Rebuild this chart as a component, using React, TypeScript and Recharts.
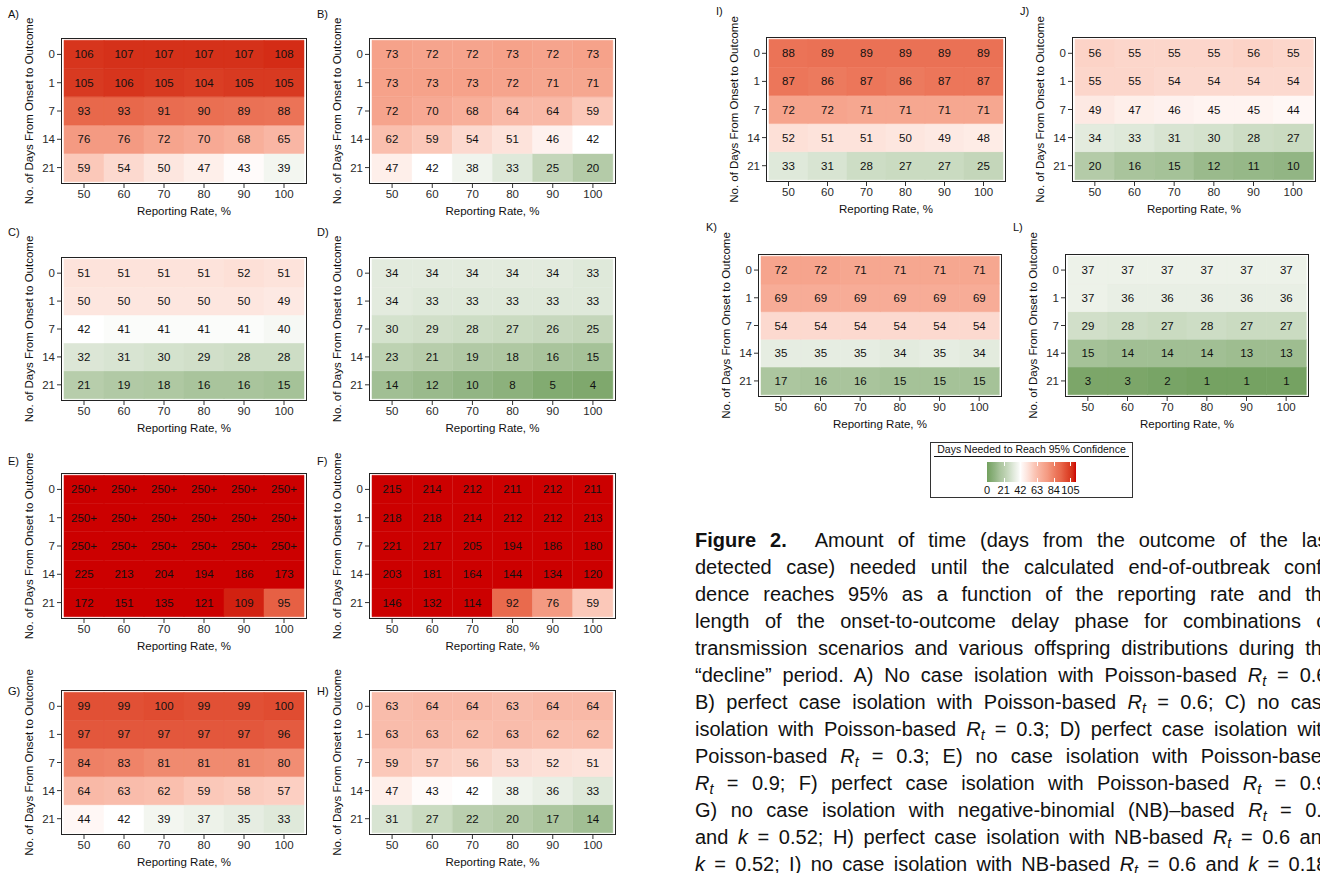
import React from 'react'
import { BarChart, Bar, XAxis, YAxis, Cell, LabelList } from 'recharts'

const rates = ['50', '60', '70', '80', '90', '100']
const delays = ['0', '1', '7', '14', '21']

// rows follow delays (0 on top), columns follow rates
const daysA = [[106, 107, 107, 107, 107, 108], [105, 106, 105, 104, 105, 105], [93, 93, 91, 90, 89, 88], [76, 76, 72, 70, 68, 65], [59, 54, 50, 47, 43, 39]]
const daysB = [[73, 72, 72, 73, 72, 73], [73, 73, 73, 72, 71, 71], [72, 70, 68, 64, 64, 59], [62, 59, 54, 51, 46, 42], [47, 42, 38, 33, 25, 20]]
const daysC = [[51, 51, 51, 51, 52, 51], [50, 50, 50, 50, 50, 49], [42, 41, 41, 41, 41, 40], [32, 31, 30, 29, 28, 28], [21, 19, 18, 16, 16, 15]]
const daysD = [[34, 34, 34, 34, 34, 33], [34, 33, 33, 33, 33, 33], [30, 29, 28, 27, 26, 25], [23, 21, 19, 18, 16, 15], [14, 12, 10, 8, 5, 4]]
const daysE = [[250, 250, 250, 250, 250, 250], [250, 250, 250, 250, 250, 250], [250, 250, 250, 250, 250, 250], [225, 213, 204, 194, 186, 173], [172, 151, 135, 121, 109, 95]]
const daysF = [[215, 214, 212, 211, 212, 211], [218, 218, 214, 212, 212, 213], [221, 217, 205, 194, 186, 180], [203, 181, 164, 144, 134, 120], [146, 132, 114, 92, 76, 59]]
const daysG = [[99, 99, 100, 99, 99, 100], [97, 97, 97, 97, 97, 96], [84, 83, 81, 81, 81, 80], [64, 63, 62, 59, 58, 57], [44, 42, 39, 37, 35, 33]]
const daysH = [[63, 64, 64, 63, 64, 64], [63, 63, 62, 63, 62, 62], [59, 57, 56, 53, 52, 51], [47, 43, 42, 38, 36, 33], [31, 27, 22, 20, 17, 14]]
const daysI = [[88, 89, 89, 89, 89, 89], [87, 86, 87, 86, 87, 87], [72, 72, 71, 71, 71, 71], [52, 51, 51, 50, 49, 48], [33, 31, 28, 27, 27, 25]]
const daysJ = [[56, 55, 55, 55, 56, 55], [55, 55, 54, 54, 54, 54], [49, 47, 46, 45, 45, 44], [34, 33, 31, 30, 28, 27], [20, 16, 15, 12, 11, 10]]
const daysK = [[72, 72, 71, 71, 71, 71], [69, 69, 69, 69, 69, 69], [54, 54, 54, 54, 54, 54], [35, 35, 35, 34, 35, 34], [17, 16, 16, 15, 15, 15]]
const daysL = [[37, 37, 37, 37, 37, 37], [37, 36, 36, 36, 36, 36], [29, 28, 27, 28, 27, 27], [15, 14, 14, 14, 13, 13], [3, 3, 2, 1, 1, 1]]

const CAP = 250
const legendTicks = [0, 21, 42, 63, 84, 105]
const LEGEND_MAX = 112

// colour scale: green -> white -> red, clipped above LEGEND_MAX
const scaleVals = [0, 10, 16, 21, 28, 34, 40, 42, 44, 50, 55, 59, 64, 72, 76, 81, 88, 93, 97, 100, 105, 108, 112]
const scaleCols = ['#72a05e', '#92b584', '#a9c49c', '#b7cdab', '#cdddc5', '#e3ebde', '#f6f8f4', '#ffffff', '#fff7f5', '#fde6df', '#fcd6cb', '#fbc8b9', '#f9b9a7', '#f6a48d', '#f49a82', '#f08a6f', '#eb7357', '#e8684b', '#e3573c', '#e04c31', '#d83a21', '#d42c16', '#cc0000']

const rgb = (c: string) => [1, 3, 5].map(i => parseInt(c.slice(i, i + 2), 16))

function colorFor(v: number) {
  if (v >= LEGEND_MAX) return '#cc0000'
  let i = 0
  while (i < scaleVals.length - 2 && v > scaleVals[i + 1]) i++
  const t = (v - scaleVals[i]) / (scaleVals[i + 1] - scaleVals[i])
  const a = rgb(scaleCols[i]), b = rgb(scaleCols[i + 1])
  const m = a.map((x, k) => Math.round(x + (b[k] - x) * t))
  return `rgb(${m[0]},${m[1]},${m[2]})`
}

const YW = 64
const XH = 34
const MT = 4
const MR = 4
const font = '"Liberation Sans", Arial, Helvetica, sans-serif'

interface PanelProps { tag: string; days: number[][]; left: number; top: number; w: number; h: number; tx: number; ty: number }

function Panel({ tag, days, left, top, w, h, tx, ty }: PanelProps) {
  const data = rates.map((rate, j) => {
    const row: Record<string, any> = { rate }
    delays.forEach((d, i) => { row['t' + d] = 1; row['v' + d] = days[i][j] })
    return row
  })
  const stack = [...delays].reverse()
  return (
    <>
      <div style={{ position: 'absolute', left: left - YW, top: top - MT }}>
        <BarChart width={w + YW + MR} height={h + MT + XH} data={data}
          margin={{ top: MT, right: MR, bottom: 0, left: 0 }} barCategoryGap={0} barGap={0}>
          <XAxis dataKey="rate" interval={0} padding={{ left: 3, right: 3 }} height={XH} tickSize={4}
            axisLine={false} tickLine={{ stroke: '#333' }} tick={{ fill: '#2a2a2a', fontSize: 11.5 }}
            label={{ value: 'Reporting Rate, %', position: 'insideBottom', offset: 3, fill: '#111', fontSize: 11.5 }} />
          <YAxis type="number" domain={[-0.08, 5.08]} allowDataOverflow ticks={[0.5, 1.5, 2.5, 3.5, 4.5]}
            tickFormatter={(v: number) => stack[Math.floor(v)]} width={YW} tickSize={4}
            axisLine={false} tickLine={{ stroke: '#333' }} tick={{ fill: '#2a2a2a', fontSize: 11.5 }}
            label={{ value: 'No. of Days From Onset to Outcome', angle: -90, position: 'center', fill: '#111', fontSize: 11.5 }} />
          {stack.map(d => (
            <Bar key={d} dataKey={'t' + d} stackId="tiles" isAnimationActive={false}>
              {data.map((row, j) => (
                <Cell key={j} fill={colorFor(row['v' + d])} stroke={colorFor(row['v' + d])} strokeWidth={0.5} />
              ))}
              <LabelList dataKey={'v' + d} position="center" fill="#111" fontSize={11.5}
                formatter={(v: any) => (v >= CAP ? '250+' : v)} />
            </Bar>
          ))}
        </BarChart>
      </div>
      <div style={{ position: 'absolute', left, top, width: w, height: h, border: '1.5px solid #222', boxSizing: 'border-box', pointerEvents: 'none' }} />
      <div style={{ position: 'absolute', left: tx, top: ty - 7, fontSize: 11, color: '#111' }}>{tag}</div>
    </>
  )
}

const Rt = () => (
  <span style={{ fontStyle: 'italic' }}>R<span style={{ fontSize: '0.72em', position: 'relative', top: '0.3em' }}>t</span></span>
)
const K = () => <i>k</i>

const captionLines = [
  <><b>Figure 2.</b>{'\u00a0\u00a0'}Amount of time (days from the outcome of the last</>,
  <>detected case) needed until the calculated end-of-outbreak confi-</>,
  <>dence reaches 95% as a function of the reporting rate and the</>,
  <>length of the onset-to-outcome delay phase for combinations of</>,
  <>transmission scenarios and various offspring distributions during the</>,
  <>“decline” period. A) No case isolation with Poisson-based <Rt /> = 0.6;</>,
  <>B) perfect case isolation with Poisson-based <Rt /> = 0.6; C) no case</>,
  <>isolation with Poisson-based <Rt /> = 0.3; D) perfect case isolation with</>,
  <>Poisson-based <Rt /> = 0.3; E) no case isolation with Poisson-based</>,
  <><Rt /> = 0.9; F) perfect case isolation with Poisson-based <Rt /> = 0.9;</>,
  <>G) no case isolation with negative-binomial (NB)–based <Rt /> = 0.6</>,
  <>and <K /> = 0.52; H) perfect case isolation with NB-based <Rt /> = 0.6 and</>,
  <><K /> = 0.52; I) no case isolation with NB-based <Rt /> = 0.6 and <K /> = 0.18;</>,
]

function Legend() {
  const barL = 987, barW = 89, barT = 462, barH = 20
  const px = (v: number) => (v / LEGEND_MAX) * barW
  const grad = scaleVals.map((v, i) => `${scaleCols[i]} ${(v / LEGEND_MAX) * 100}%`).join(', ')
  return (
    <>
      <div style={{ position: 'absolute', left: 930, top: 442, width: 203, height: 56, border: '1px solid #333', boxSizing: 'border-box' }} />
      <div style={{ position: 'absolute', left: 934, top: 443, width: 195, textAlign: 'center', fontSize: 10.5, color: '#111', borderBottom: '1px solid #111', lineHeight: '13px', whiteSpace: 'nowrap' }}>
        Days Needed to Reach 95% Confidence
      </div>
      <div style={{ position: 'absolute', left: barL, top: barT, width: barW, height: barH, background: `linear-gradient(to right, ${grad})` }} />
      {legendTicks.slice(1).map(t => (
        <React.Fragment key={t}>
          <div style={{ position: 'absolute', left: barL + px(t), top: barT, width: 1, height: 4, background: '#fff' }} />
          <div style={{ position: 'absolute', left: barL + px(t), top: barT + barH - 4, width: 1, height: 4, background: '#fff' }} />
        </React.Fragment>
      ))}
      {legendTicks.map(t => (
        <div key={t} style={{ position: 'absolute', left: barL + px(t) - 15, top: barT + barH + 2, width: 30, textAlign: 'center', fontSize: 11, color: '#111' }}>{t}</div>
      ))}
    </>
  )
}

export default function App() {
  return (
    <div style={{ position: 'absolute', left: 0, top: 0, width: 1320, height: 873, overflow: 'hidden', background: '#fff', fontFamily: font }}>
      <style>{'.recharts-surface { overflow: visible; }'}</style>
      <Panel tag="A)" days={daysA} left={61} top={38} w={246} h={146} tx={8} ty={15} />
      <Panel tag="B)" days={daysB} left={369} top={38} w={247} h={146} tx={317} ty={15} />
      <Panel tag="C)" days={daysC} left={61} top={257} w={246} h={144} tx={8} ty={233} />
      <Panel tag="D)" days={daysD} left={369} top={257} w={247} h={144} tx={317} ty={233} />
      <Panel tag="E)" days={daysE} left={61} top={473} w={246} h={146} tx={8} ty={462} />
      <Panel tag="F)" days={daysF} left={369} top={473} w={247} h={146} tx={317} ty={462} />
      <Panel tag="G)" days={daysG} left={61} top={690} w={246} h={145} tx={8} ty={692} />
      <Panel tag="H)" days={daysH} left={369} top={690} w={247} h={145} tx={317} ty={692} />
      <Panel tag="I)" days={daysI} left={766} top={37} w={240} h={145} tx={716} ty={12} />
      <Panel tag="J)" days={daysJ} left={1072} top={37} w={244} h={145} tx={1020} ty={12} />
      <Panel tag="K)" days={daysK} left={758} top={254} w={244} h={143} tx={706} ty={228} />
      <Panel tag="L)" days={daysL} left={1065} top={254} w={244} h={143} tx={1013} ty={228} />
      <Legend />
      {captionLines.map((line, i) => (
        <div key={i} style={{ position: 'absolute', left: 695, top: 527 + i * 27, width: 638, height: 27, lineHeight: '27px', fontSize: 20, color: '#111', whiteSpace: 'nowrap', textAlign: 'justify', textAlignLast: 'justify' }}>
          {line}
        </div>
      ))}
    </div>
  )
}
